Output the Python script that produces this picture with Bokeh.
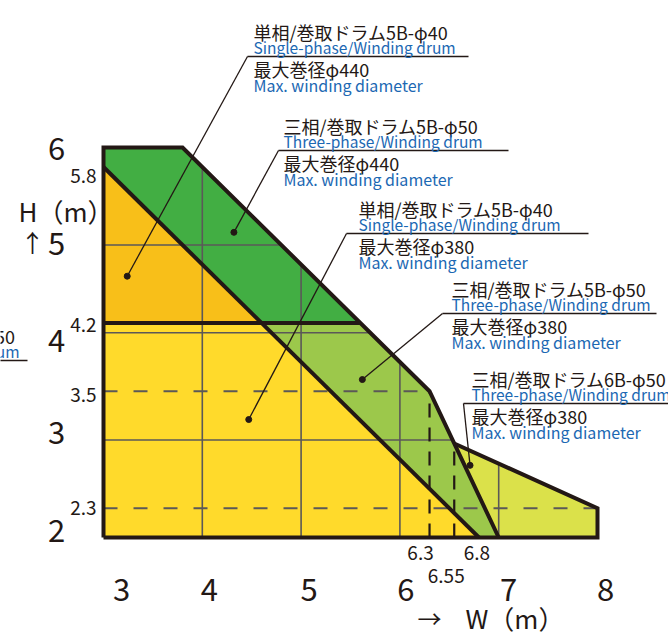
from bokeh.plotting import figure
from bokeh.models import Range1d
from bokeh.embed import file_html
from bokeh.resources import INLINE
from bokeh.core.properties import value

# ---------------- data ----------------
x_ticks = [3, 4, 5, 6, 7, 8]
y_ticks = [2, 3, 4, 5, 6]
y_marks = [5.8, 4.2, 3.5, 2.3]
x_marks = [6.3, 6.8, 6.55]

# region polygons (W, H)
orange_w = [3.0, 3.0, 4.6]
orange_h = [4.2, 5.8, 4.2]
dkgreen_w = [3.0, 3.0, 3.8, 5.6, 4.6]
dkgreen_h = [5.8, 6.0, 6.0, 4.2, 4.2]
yellow_w = [3.0, 3.0, 4.6, 6.8]
yellow_h = [2.0, 4.2, 4.2, 2.0]
ltgreen_w = [4.6, 5.6, 6.3, 7.0, 6.8]
ltgreen_h = [4.2, 4.2, 3.5, 2.0, 2.0]
ygreen_w = [6.55, 8.0, 8.0, 7.0]
ygreen_h = [2.964, 2.3, 2.0, 2.0]

# outer boundary (left edge, top, diagonal, knee, steep edge)
outer_w = [3.0, 3.0, 3.8, 6.3, 7.0]
outer_h = [2.0, 6.0, 6.0, 3.5, 2.0]
base_w = [3.0, 8.0, 8.0, 6.55]
base_h = [2.0, 2.0, 2.3, 2.964]
diag_w = [3.0, 6.8]
diag_h = [5.8, 2.0]
split_w = [3.0, 5.6]
split_h = [4.2, 4.2]

grid_w = [4, 5, 6, 7]
grid_h = [5, 4.1, 3]
dash_h = [3.5, 2.3]
dash_w = [6.3, 6.55]

# annotation anchor dots (inside regions)
dot_w = [3.24, 4.32, 4.47, 5.62, 6.71]
dot_h = [4.68, 5.13, 3.21, 3.62, 2.74]

jp_lines = ["単相/巻取ドラム5B-φ40", "三相/巻取ドラム5B-φ50", "単相/巻取ドラム5B-φ40",
            "三相/巻取ドラム5B-φ50", "三相/巻取ドラム6B-φ50"]
en_lines = ["Single-phase/Winding drum", "Three-phase/Winding drum", "Single-phase/Winding drum",
            "Three-phase/Winding drum", "Three-phase/Winding drum"]
dia_lines = ["最大巻径φ440", "最大巻径φ440", "最大巻径φ380", "最大巻径φ380", "最大巻径φ380"]
en_dia = "Max. winding diameter"

# ---------------- layout ----------------
W, H = 668, 634
SX, SY = 98.8, 97.5
XS = 3 - 103 / SX
YE = 6 + 147 / SY

def X(px):
    return XS + px / SX

def Y(py):
    return YE - py / SY

p = figure(width=W, height=H, output_backend="svg", toolbar_location=None,
           x_range=Range1d(XS, XS + W / SX), y_range=Range1d(YE - H / SY, YE),
           min_border=0)
p.xaxis.visible = False
p.yaxis.visible = False
p.xgrid.visible = False
p.ygrid.visible = False
p.outline_line_color = None
p.background_fill_color = "white"

INK = "#231815"
GRID = "#5b5858"
FONT = value("Noto Sans CJK JP")
BLUE = "#1c68b3"

p.patch(orange_w, orange_h, fill_color="#f8bf19", line_color=None)
p.patch(dkgreen_w, dkgreen_h, fill_color="#42ae43", line_color=None)
p.patch(yellow_w, yellow_h, fill_color="#ffda2b", line_color=None)
p.patch(ltgreen_w, ltgreen_h, fill_color="#9cc84b", line_color=None)
p.patch(ygreen_w, ygreen_h, fill_color="#dbe14a", line_color=None)

def interp(xs, ys, x):
    for i in range(len(xs) - 1):
        a, b = xs[i], xs[i + 1]
        if a != b and min(a, b) <= x <= max(a, b):
            return ys[i] + (ys[i + 1] - ys[i]) * (x - a) / (b - a)
    return None

def top_at(w):
    if w >= ygreen_w[0]:
        return interp(ygreen_w[:2], ygreen_h[:2], w)
    return interp(outer_w[1:], outer_h[1:], w)

def right_at(h):
    return interp(outer_h[2:], outer_w[2:], h)

# grid lines clipped to the envelope
gxs, gys = [], []
for g in grid_w:
    gxs.append([g, g]); gys.append([2.0, top_at(g)])
for g in grid_h:
    gxs.append([3.0, right_at(g)]); gys.append([g, g])
p.multi_line(gxs, gys, line_color=GRID, line_width=1.6)

# dashed lines
p.multi_line([[3.0, dash_w[0]], [3.0, 8.0]], [[h, h] for h in dash_h],
             line_color=GRID, line_width=1.8, line_dash="14 16")
p.multi_line([[w, w] for w in dash_w], [[2.0, 3.5], [2.0, interp(outer_w, outer_h, dash_w[1])]],
             line_color=INK, line_width=2.2, line_dash="14 10")

# thick boundary lines
p.multi_line([outer_w, base_w, diag_w, split_w], [outer_h, base_h, diag_h, split_h],
             line_color=INK, line_width=4, line_join="miter")

# annotation blocks: (text_left, underline_y, underline_left, underline_right)
blocks = [(253, 56, 247, 468), (283, 150, 278, 508), (358, 233, 346, 588),
          (451, 313, 442, 656), (471, 403, 463, 720)]
for i, (tl, L, ul, ur) in enumerate(blocks):
    p.line([X(ul), X(ur)], [Y(L), Y(L)], line_color=INK, line_width=1.3)
    p.line([X(ul), dot_w[i]], [Y(L), dot_h[i]], line_color=INK, line_width=1.3)
    p.text([X(tl)], [Y(L - 25)], text=[jp_lines[i]], text_font=FONT, text_font_size="18px",
           text_color=INK, text_baseline="middle", text_align="left")
    p.text([X(tl)], [Y(L - 9.5)], text=[en_lines[i]], text_font=FONT, text_font_size="15.5px",
           text_color=BLUE, text_baseline="middle", text_align="left")
    p.text([X(tl)], [Y(L + 12)], text=[dia_lines[i]], text_font=FONT, text_font_size="18px",
           text_color=INK, text_baseline="middle", text_align="left")
    p.text([X(tl)], [Y(L + 28)], text=[en_dia], text_font=FONT, text_font_size="16px",
           text_color=BLUE, text_baseline="middle", text_align="left")
p.scatter(dot_w, dot_h, size=6, color=INK)

# clipped block at the left edge
p.line([X(-200), X(27)], [Y(360), Y(360)], line_color=INK, line_width=1.3)
p.text([X(15)], [Y(335)], text=["三相/巻取ドラム5B-φ50"], text_font=FONT, text_font_size="18px",
       text_color=INK, text_baseline="middle", text_align="right")
p.text([X(19)], [Y(350.5)], text=["Three-phase/Winding drum"], text_font=FONT, text_font_size="15.5px",
       text_color=BLUE, text_baseline="middle", text_align="right")

# y tick labels
y_off = [-7, -7.5, -2, -1.5, 1]
p.text([X(56)] * len(y_ticks), y_ticks, text=[str(v) for v in y_ticks], y_offset=y_off,
       text_font=FONT, text_font_size="31px", text_color=INK,
       text_baseline="middle", text_align="center")
ym_off = [8.5, 1.5, 4, 0]
p.text([X(96)] * len(y_marks), y_marks, text=[str(v) for v in y_marks], y_offset=ym_off,
       text_font=FONT, text_font_size="19px", text_color=INK,
       text_baseline="middle", text_align="right")

# x tick labels
x_off = [18, 7, 8, 6, 10, 8]
p.text(x_ticks, [Y(589)] * len(x_ticks), text=[str(v) for v in x_ticks], x_offset=x_off,
       text_font=FONT, text_font_size="31px", text_color=INK,
       text_baseline="middle", text_align="center")
xm_off = [-9, -2, -8]
xm_y = [Y(552), Y(552), Y(575)]
p.text(x_marks, xm_y, text=[str(v) for v in x_marks], x_offset=xm_off,
       text_font=FONT, text_font_size="19px", text_color=INK,
       text_baseline="middle", text_align="center")

# axis titles
p.text([X(18)], [Y(210)], text=["H（m）"], text_font=FONT, text_font_size="26px",
       text_color=INK, text_baseline="middle", text_align="left")
p.text([X(32)], [Y(241)], text=["↑"], text_font=FONT, text_font_size="24px",
       text_color=INK, text_baseline="middle", text_align="center")
p.text([X(429)], [Y(617)], text=["→"], text_font=FONT, text_font_size="24px",
       text_color=INK, text_baseline="middle", text_align="center")
p.text([X(465)], [Y(617)], text=["W（m）"], text_font=FONT, text_font_size="26px",
       text_color=INK, text_baseline="middle", text_align="left")

open("out.html", "w").write(file_html(p, INLINE))
